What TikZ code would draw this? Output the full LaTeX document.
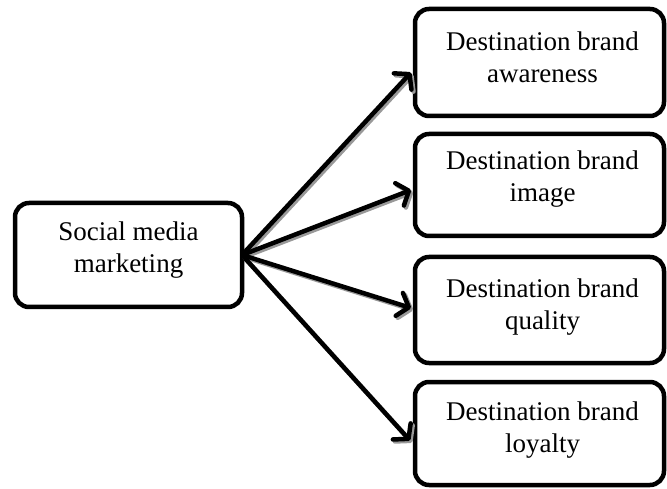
\documentclass[tikz,border=0pt]{standalone}
\usepackage{fontspec}
\setmainfont{Liberation Serif}
\usetikzlibrary{arrows.meta,calc}
\begin{document}
\begin{tikzpicture}[x=1pt,y=1pt,
  box/.style={draw=black, line width=4.5pt, rounded corners=14pt, fill=white,
    inner sep=0pt, outer sep=0pt},
  txt/.style={align=center, inner sep=0pt, font=\fontsize{27}{32}\selectfont},
  arrtip/.style={-{Straight Barb[length=10pt,width=24pt,line cap=round,line join=round]}},
  arr/.style={line width=4.5pt, draw=black, arrtip},
  arrshadow/.style={line width=4.5pt, draw=black!40, arrtip}
]
\useasboundingbox (0,0) rectangle (667,488);
\node[box, minimum width=227pt, minimum height=104pt] (src) at (128.5,233) {};
\node[box, minimum width=249pt, minimum height=107pt] (b1) at (539.5,425.5) {};
\node[box, minimum width=249pt, minimum height=102pt] (b2) at (539.5,303) {};
\node[box, minimum width=249pt, minimum height=106pt] (b3) at (539.5,178) {};
\node[box, minimum width=249pt, minimum height=103pt] (b4) at (539.5,54.5) {};
\node[txt] (ts) at ($(src.center)+(0,5)$) {Social media\\marketing};
\node[txt] (t1) at ($(b1.center)+(3,5)$) {Destination brand\\awareness};
\node[txt] (t2) at ($(b2.center)+(3,6)$) {Destination brand\\image};
\node[txt] (t3) at ($(b3.center)+(3,3)$) {Destination brand\\quality};
\node[txt] (t4) at ($(b4.center)+(3,3)$) {Destination brand\\loyalty};
\coordinate (e1) at ($(b1.west)+(-4,-10)$);
\coordinate (e2) at ($(b2.west)+(-4,-5)$);
\coordinate (e3) at ($(b3.west)+(-4,2)$);
\coordinate (e4) at ($(b4.west)+(-5,-7)$);
\begin{scope}[transform canvas={shift={(2pt,-2pt)}}]
\draw[arrshadow] (src.east) -- (e1);
\draw[arrshadow] (src.east) -- (e2);
\draw[arrshadow] (src.east) -- (e3);
\draw[arrshadow] (src.east) -- (e4);
\end{scope}
\draw[arr] (src.east) -- (e1);
\draw[arr] (src.east) -- (e2);
\draw[arr] (src.east) -- (e3);
\draw[arr] (src.east) -- (e4);
\end{tikzpicture}
\end{document}
